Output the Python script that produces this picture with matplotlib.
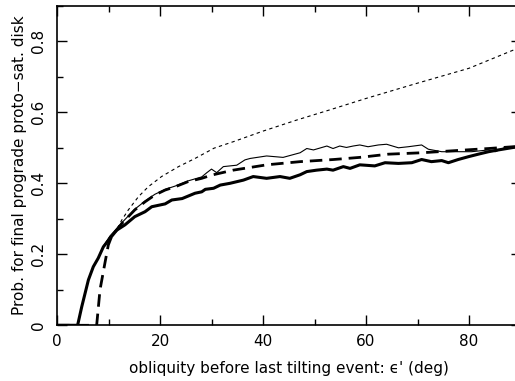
import numpy as np
import matplotlib
matplotlib.use("Agg")
import matplotlib.pyplot as plt
from matplotlib.ticker import MultipleLocator

# thick solid curve
x_thick = [0, 4.0, 4.8, 6.1, 7.05, 8.0, 9.0, 10.3, 11.6, 13.2, 15.1, 17.1, 18.4, 21.0, 22.3, 24.3,
           26.8, 28.1, 28.8, 30.4, 31.7, 33.6, 36.2, 38.1, 40.7, 43.3, 45.2, 47.2, 48.5, 50.4,
           52.4, 53.6, 55.6, 56.9, 58.8, 59.8, 61.7, 63.7, 66.3, 68.9, 70.8, 72.7, 74.7, 76.0,
           77.9, 79.9, 81.8, 83.8, 85.7, 88.6, 90.0]
y_thick = [0, 0, 0.052, 0.128, 0.165, 0.189, 0.221, 0.245, 0.268, 0.283, 0.306, 0.320, 0.334,
           0.342, 0.353, 0.357, 0.372, 0.376, 0.383, 0.386, 0.395, 0.400, 0.409, 0.419, 0.414,
           0.419, 0.414, 0.424, 0.433, 0.437, 0.440, 0.437, 0.447, 0.442, 0.452, 0.451, 0.449,
           0.458, 0.456, 0.458, 0.467, 0.461, 0.464, 0.458, 0.467, 0.475, 0.482, 0.489, 0.494,
           0.501, 0.503]

# thin solid curve
x_thin = [4.0, 4.8, 6.1, 7.05, 8.0, 9.0, 10.3, 12.6, 15.1, 17.1, 19.0, 21.0, 22.9, 25.5, 28.1,
          29.1, 30.0, 31.0, 32.3, 34.9, 36.5, 37.5, 40.7, 43.9, 47.2, 48.5, 49.8, 52.4, 53.6,
          54.9, 56.2, 57.5, 58.8, 60.4, 62.4, 64.0, 66.3, 68.2, 70.8, 72.1, 74.7, 77.3, 80.5,
          83.8, 85.1, 87.0, 88.6, 90.0]
y_thin = [0, 0.052, 0.128, 0.165, 0.189, 0.223, 0.252, 0.289, 0.327, 0.350, 0.369, 0.383,
          0.392, 0.407, 0.418, 0.430, 0.440, 0.430, 0.447, 0.451, 0.466, 0.470, 0.477, 0.473,
          0.486, 0.498, 0.494, 0.505, 0.498, 0.505, 0.501, 0.505, 0.508, 0.503, 0.508, 0.510,
          0.500, 0.503, 0.508, 0.496, 0.489, 0.489, 0.489, 0.494, 0.489, 0.501, 0.503, 0.503]

# thick dashed curve
x_dash = [0, 7.7, 8.35, 9.3, 9.96, 10.6, 12.6, 15.1, 17.1, 19.0, 21.0, 22.9, 25.5, 28.1, 30.0,
          34.2, 40.7, 47.2, 53.7, 58.8, 64.3, 70.8, 77.3, 83.8, 88.6, 90.0]
y_dash = [0, 0, 0.100, 0.175, 0.226, 0.250, 0.287, 0.325, 0.348, 0.367, 0.381, 0.390, 0.405,
          0.414, 0.423, 0.437, 0.452, 0.461, 0.467, 0.473, 0.482, 0.486, 0.492, 0.498, 0.503,
          0.504]

# thin short-dashed curve
x_dot = [4.0, 4.8, 6.1, 7.05, 8.0, 9.0, 10.3, 11.6, 12.6, 13.85, 15.8, 17.7, 20.3, 23.6, 26.8,
         30.5, 34.2, 40.0, 46.5, 53.0, 60.0, 69.5, 80.0, 88.9, 90.0]
y_dot = [0, 0.052, 0.128, 0.165, 0.189, 0.222, 0.250, 0.270, 0.297, 0.325, 0.362, 0.390,
         0.419, 0.447, 0.470, 0.499, 0.517, 0.547, 0.578, 0.607, 0.639, 0.680, 0.724, 0.777,
         0.784]

x_ticks = [0, 20, 40, 60, 80]
y_ticks = [0, 0.2, 0.4, 0.6, 0.8]
y_ticklabels = ["0", "0.2", "0.4", "0.6", "0.8"]

fig = plt.figure(figsize=(5.15, 3.81), dpi=100)
ax = fig.add_axes([57 / 515, 55.7 / 381, 463.5 / 515, 319.5 / 381])

ax.plot(x_dot, y_dot, color="black", lw=0.8, dashes=(3, 3))
ax.plot(x_thin, y_thin, color="black", lw=0.8)
ax.plot(x_dash, y_dash, color="black", lw=2.0, dashes=(4.5, 2.5))
ax.plot(x_thick, y_thick, color="black", lw=2.2)

ax.set_xlim(0, 90)
ax.set_ylim(0, 0.9)
ax.set_xticks(x_ticks)
ax.set_xticklabels([str(v) for v in x_ticks])
ax.set_yticks(y_ticks)
ax.set_yticklabels(y_ticklabels, rotation=90, va="center")
ax.xaxis.set_minor_locator(MultipleLocator(10))
ax.yaxis.set_minor_locator(MultipleLocator(0.1))
ax.tick_params(which="both", direction="in", top=True, right=True, width=1.0)
ax.tick_params(which="major", length=7)
ax.tick_params(which="minor", length=4)
ax.tick_params(axis="x", labelsize=11, pad=6)
ax.tick_params(axis="y", labelsize=11, pad=8)
for s in ax.spines.values():
    s.set_linewidth(1.2)

ax.set_xlabel("obliquity before last tilting event: \u03f5' (deg)", fontsize=11, labelpad=9)
ax.set_ylabel("Prob. for final prograde proto\u2212sat. disk", fontsize=11, labelpad=3)

fig.savefig("out.png", dpi=100)
